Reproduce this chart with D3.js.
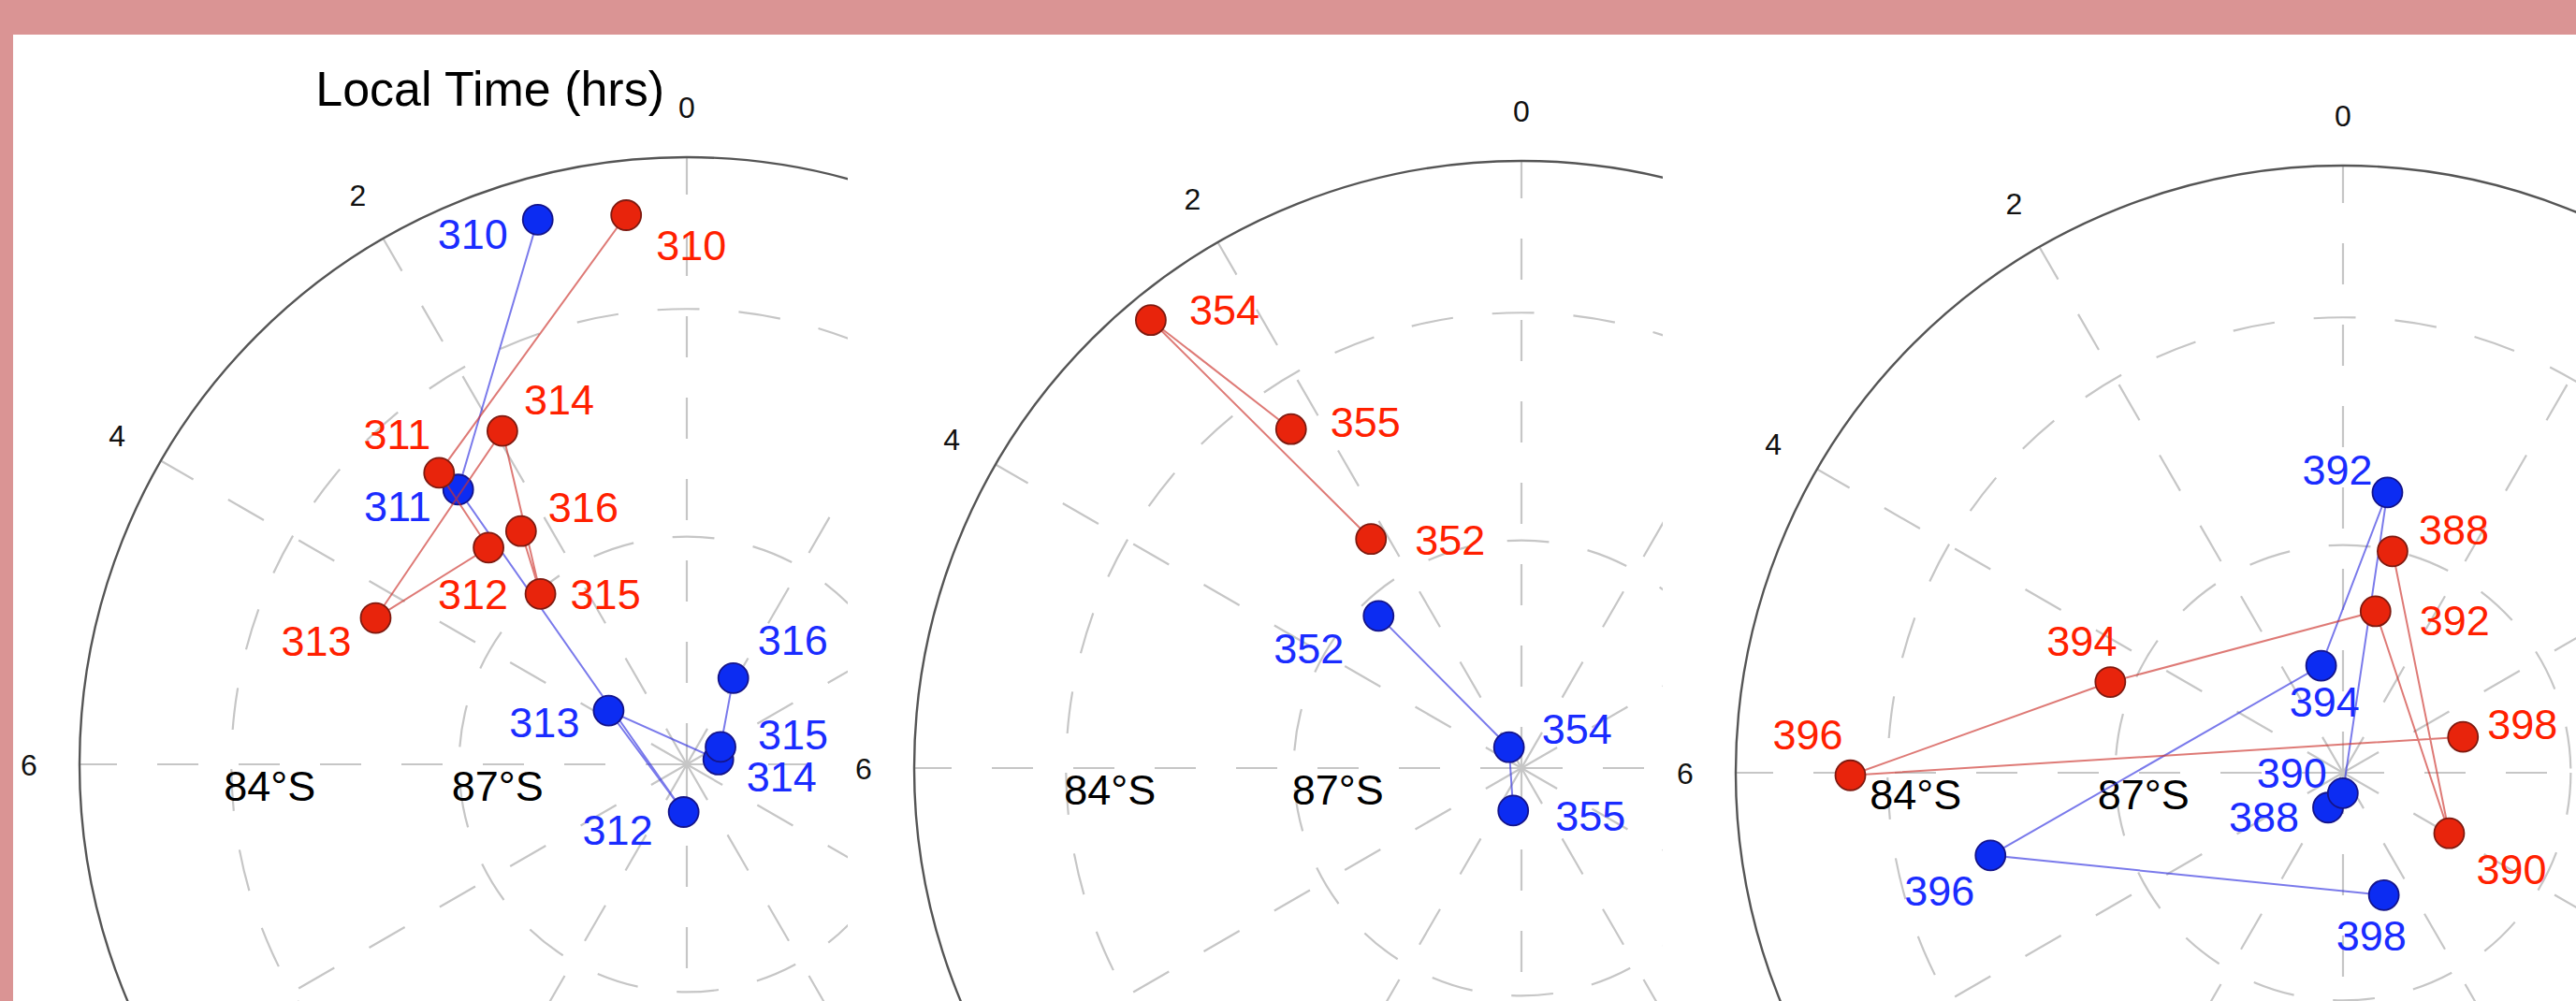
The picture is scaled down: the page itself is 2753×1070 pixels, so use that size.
<!DOCTYPE html>
<html>
<head>
<meta charset="utf-8">
<script src="https://d3js.org/d3.v7.min.js"></script>
<style>
  body { margin: 0; background: #da9494; }
  svg { display: block; }
  text { font-family: "Liberation Sans", Arial, sans-serif; }
</style>
</head>
<body>
<script>

// ---- data: local time (hrs) and latitude (deg) per orbit ----
var orbits1 = [310, 311, 312, 313, 314, 315, 316];
var red1Time = [0.42, 2.69, 2.83, 4.32, 1.93, 2.71, 2.36];
var red1Lat = [-82.72, -84.96, -86.13, -85.47, -84.98, -87.04, -86.23];
var blue1Time = [1.02, 2.65, 11.75, 3.70, 18.57, 19.82, 22.11];
var blue1Lat = [-82.56, -85.29, -89.37, -88.75, -89.58, -89.50, -88.71];

var orbits2 = [352, 354, 355];
var red2Time = [2.22, 2.64, 2.28];
var red2Lat = [-86.39, -82.34, -84.60];
var blue2Time = [2.88, 2.06, 11.27];
var blue2Lat = [-87.25, -89.68, -89.43];

var orbits3 = [388, 390, 392, 394, 396, 398];
var red3Time = [23.16, 16.02, 23.24, 4.58, 6.02, 19.11];
var red3Lat = [-87.01, -88.39, -87.83, -86.71, -83.51, -88.35];
var blue3Time = [10.45, 11.97, 23.40, 0.77, 6.88, 13.23];
var blue3Lat = [-89.50, -89.73, -86.26, -88.56, -85.23, -88.30];

// axis ticks
var hourTicks = [0, 2, 4, 6, 8, 10, 12, 14, 16, 18, 20, 22];
var ringLats = [-87, -84];
var ringLabels = ["87°S", "84°S"];
var outerLat = -82;

// ---- layout ----
var w = 2753, h = 1070;
var R = 649;          // outer circle radius (px)
var tickR = 703;      // hour label radius (px)

// label offsets from each marker: [dx, dy, anchor]
var red1Labels = [[32,32,"start"], [-9,-42,"end"], [21,49,"end"], [-26,24,"end"], [23,-34,"start"], [32,0,"start"], [29,-26,"start"]];
var blue1Labels = [[-32,15,"end"], [-29,18,"end"], [-33,19,"end"], [-31,12,"end"], [30,18,"start"], [40,-14,"start"], [26,-41,"start"]];
var red2Labels = [[47,1,"start"], [41,-11,"start"], [42,-8,"start"]];
var blue2Labels = [[-37,34,"end"], [35,-20,"start"], [45,5,"start"]];
var red3Labels = [[28,-23,"start"], [29,38,"start"], [47,9,"start"], [-68,-44,"start"], [-83,-44,"start"], [26,-14,"start"]];
var blue3Labels = [[-31,10,"end"], [-17,-22,"end"], [-16,-25,"end"], [-34,38,"start"], [-17,37,"end"], [-51,43,"start"]];

var panels = [
  { cx: 734,  cy: 817, x0: 14,   x1: 906,  ringDx: -8,
    orbits: orbits1, red: [red1Time, red1Lat, red1Labels], blue: [blue1Time, blue1Lat, blue1Labels] },
  { cx: 1626, cy: 821, x0: 906,  x1: 1777, ringDx: -2,
    orbits: orbits2, red: [red2Time, red2Lat, red2Labels], blue: [blue2Time, blue2Lat, blue2Labels] },
  { cx: 2504, cy: 826, x0: 1777, x1: 2753, ringDx: -19,
    orbits: orbits3, red: [red3Time, red3Lat, red3Labels], blue: [blue3Time, blue3Lat, blue3Labels] }
];

// colatitude (deg from pole) -> radius px
var rScale = d3.scaleLinear().domain([0, 90 + outerLat]).range([0, R]);
// hours -> angle (0 at top, counter-clockwise)
var aScale = d3.scaleLinear().domain([0, 24]).range([0, -2 * Math.PI]);

var svg = d3.select("body").append("svg")
  .attr("width", w)
  .attr("height", h);

svg.append("rect")
  .attr("x", 14).attr("y", 37)
  .attr("width", w - 14).attr("height", h - 37)
  .attr("fill", "#ffffff");

var series = [
  { key: "blue", line: "rgb(50,50,225)", fill: "#0c2cf2", stroke: "#14148a", text: "#1a2cff" },
  { key: "red",  line: "rgb(205,50,45)", fill: "#e8240c", stroke: "#7e1a10", text: "#ff2000" }
];

panels.forEach(function(p, pi) {
  svg.append("clipPath")
    .attr("id", "clip" + pi)
    .append("rect")
    .attr("x", p.x0).attr("y", 37)
    .attr("width", p.x1 - p.x0).attr("height", h - 37);

  var g = svg.append("g")
    .attr("clip-path", "url(#clip" + pi + ")")
    .append("g")
    .attr("transform", "translate(" + p.cx + "," + p.cy + ")");

  // spokes every 2 hours
  g.selectAll(".spoke")
    .data(hourTicks)
    .enter().append("line")
    .attr("x1", 0).attr("y1", 0)
    .attr("x2", function(d) { return d3.pointRadial(aScale(d), R)[0]; })
    .attr("y2", function(d) { return d3.pointRadial(aScale(d), R)[1]; })
    .attr("stroke", "#c6c6c6")
    .attr("stroke-width", 2.2)
    .attr("stroke-dasharray", "44,43");

  // dashed latitude rings
  g.selectAll(".ring")
    .data(ringLats)
    .enter().append("circle")
    .attr("r", function(d) { return rScale(90 + d); })
    .attr("fill", "none")
    .attr("stroke", "#c6c6c6")
    .attr("stroke-width", 2.2)
    .attr("stroke-dasharray", "45,42");

  // outer circle
  g.append("circle")
    .attr("r", R)
    .attr("fill", "none")
    .attr("stroke", "#555555")
    .attr("stroke-width", 2.4);

  // hour labels (only those that land inside this panel's visible area)
  var visibleTicks = hourTicks.filter(function(d) {
    var xy = d3.pointRadial(aScale(d), tickR);
    return p.cx + xy[0] > p.x0 + 8 && p.cx + xy[0] < p.x1 - 8 && p.cy + xy[1] < h - 20;
  });
  g.selectAll(".tick")
    .data(visibleTicks)
    .enter().append("text")
    .attr("x", function(d) { return d3.pointRadial(aScale(d), tickR)[0]; })
    .attr("y", function(d) { return d3.pointRadial(aScale(d), tickR)[1]; })
    .attr("dy", "0.36em")
    .attr("text-anchor", "middle")
    .attr("font-size", 32)
    .attr("fill", "#111")
    .text(function(d) { return d; });

  // ring labels along the 6 hr spoke
  g.selectAll(".ringlabel")
    .data(ringLats)
    .enter().append("text")
    .attr("x", function(d) { return -rScale(90 + d) + p.ringDx; })
    .attr("y", 23)
    .attr("dy", "0.36em")
    .attr("font-size", 45)
    .attr("fill", "#000")
    .text(function(d, i) { return ringLabels[i]; });

  // orbit tracks
  series.forEach(function(s) {
    var times = p[s.key][0], lats = p[s.key][1], labs = p[s.key][2];
    var pts = p.orbits.map(function(o, i) {
      var xy = d3.pointRadial(aScale(times[i]), rScale(90 + lats[i]));
      return { orbit: o, x: xy[0], y: xy[1], lab: labs[i] };
    });

    g.append("path")
      .datum(pts)
      .attr("fill", "none")
      .attr("stroke", s.line)
      .attr("stroke-opacity", 0.65)
      .attr("stroke-width", 2)
      .attr("d", d3.line().x(function(d) { return d.x; }).y(function(d) { return d.y; }));

    g.selectAll(".m" + s.key)
      .data(pts)
      .enter().append("circle")
      .attr("cx", function(d) { return d.x; })
      .attr("cy", function(d) { return d.y; })
      .attr("r", 16)
      .attr("fill", s.fill)
      .attr("stroke", s.stroke)
      .attr("stroke-width", 1.8);

    g.selectAll(".l" + s.key)
      .data(pts)
      .enter().append("text")
      .attr("x", function(d) { return d.x + d.lab[0]; })
      .attr("y", function(d) { return d.y + d.lab[1]; })
      .attr("dy", "0.36em")
      .attr("text-anchor", function(d) { return d.lab[2]; })
      .attr("font-size", 45)
      .attr("fill", s.text)
      .text(function(d) { return d.orbit; });
  });
});

// title on the first panel
svg.append("text")
  .attr("x", 710)
  .attr("y", 113)
  .attr("text-anchor", "end")
  .attr("font-size", 52)
  .attr("fill", "#000")
  .text("Local Time (hrs)");

</script>
</body>
</html>
